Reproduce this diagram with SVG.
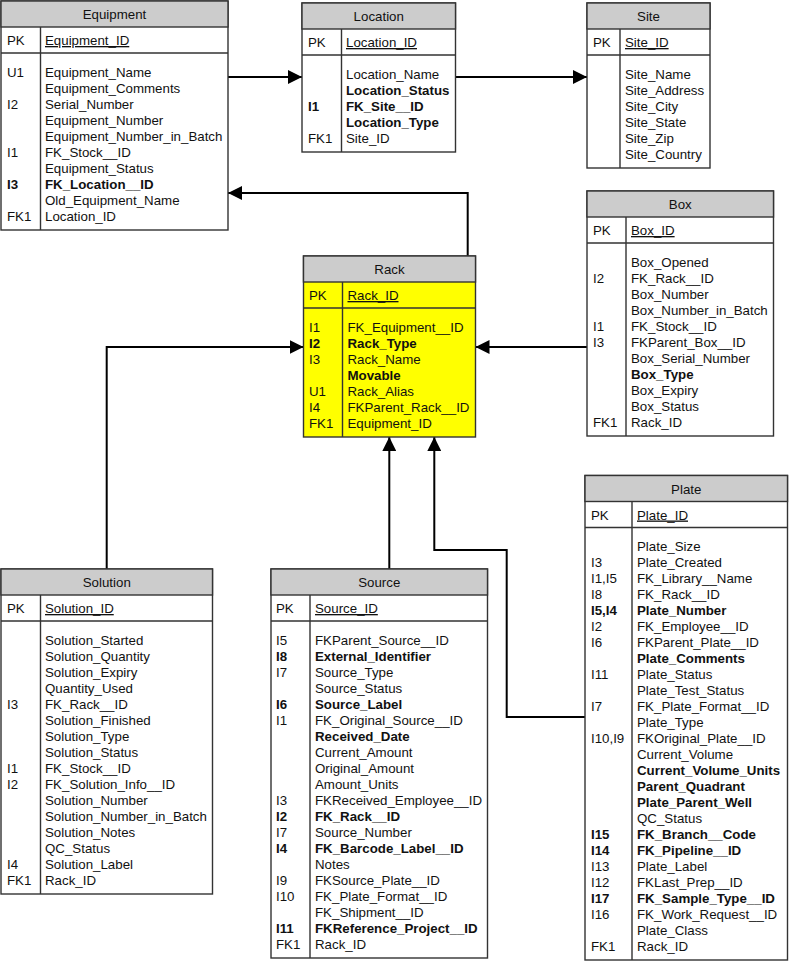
<svg xmlns="http://www.w3.org/2000/svg" width="789" height="961" viewBox="0 0 789 961">
<style>
.bg{fill:#ffffff;stroke:#333333;stroke-width:1.4}
.yl{fill:#ffff00;stroke:#333333;stroke-width:1.4}
.hd{fill:#cccccc;stroke:#333333;stroke-width:1.4}
.ln{stroke:#333333;stroke-width:1.4;fill:none}
text{font-family:"Liberation Sans",Arial,sans-serif;font-size:13.3px;fill:#111111}
.ttl{text-anchor:middle}
.b{font-weight:bold}
.u{text-decoration:underline}
.cn{stroke:#000000;stroke-width:2;fill:none;marker-end:url(#ah)}
</style>
<defs>
<marker id="ah" viewBox="0 0 14 14" refX="14" refY="7" markerWidth="14" markerHeight="14" markerUnits="userSpaceOnUse" orient="auto">
<path d="M0,0 L14,7 L0,14 z" fill="#000000"/>
</marker>
</defs>

<g id="connectors">
<path class="cn" d="M228,77 H302"/>
<path class="cn" d="M455.5,77 H587"/>
<path class="cn" d="M467.7,256 V193 H228"/>
<path class="cn" d="M106.7,569 V347 H303.5"/>
<path class="cn" d="M587,347 H475.5"/>
<path class="cn" d="M389.3,569 V437"/>
<path class="cn" d="M585,717 H506.7 V550 H434.3 V437"/>
</g>

<g id="Equipment">
<rect class="bg" x="1" y="1" width="227" height="229"/>
<rect class="hd" x="1" y="1" width="227" height="26"/>
<path class="ln" d="M1,53 H228 M40.5,27 V230"/>
<text class="ttl" x="114.5" y="19">Equipment</text>
<text x="7" y="45">PK</text><text class="u" x="45" y="45">Equipment_ID</text>
<text x="7" y="76.5">U1</text><text x="45" y="76.5">Equipment_Name</text>
<text x="45" y="92.5">Equipment_Comments</text>
<text x="7" y="108.5">I2</text><text x="45" y="108.5">Serial_Number</text>
<text x="45" y="124.5">Equipment_Number</text>
<text x="45" y="140.5">Equipment_Number_in_Batch</text>
<text x="7" y="156.5">I1</text><text x="45" y="156.5">FK_Stock__ID</text>
<text x="45" y="172.5">Equipment_Status</text>
<text class="b" x="7" y="188.5">I3</text><text class="b" x="45" y="188.5">FK_Location__ID</text>
<text x="45" y="204.5">Old_Equipment_Name</text>
<text x="7" y="220.5">FK1</text><text x="45" y="220.5">Location_ID</text>
</g>

<g id="Location">
<rect class="bg" x="302" y="3" width="153.5" height="149"/>
<rect class="hd" x="302" y="3" width="153.5" height="26"/>
<path class="ln" d="M302,55 H455.5 M341.5,29 V152"/>
<text class="ttl" x="378.75" y="21">Location</text>
<text x="308" y="47">PK</text><text class="u" x="346" y="47">Location_ID</text>
<text x="346" y="78.5">Location_Name</text>
<text class="b" x="346" y="94.5">Location_Status</text>
<text class="b" x="308" y="110.5">I1</text><text class="b" x="346" y="110.5">FK_Site__ID</text>
<text class="b" x="346" y="126.5">Location_Type</text>
<text x="308" y="142.5">FK1</text><text x="346" y="142.5">Site_ID</text>
</g>

<g id="Site">
<rect class="bg" x="587" y="3" width="123" height="165"/>
<rect class="hd" x="587" y="3" width="123" height="26"/>
<path class="ln" d="M587,55 H710 M620,29 V168"/>
<text class="ttl" x="648.5" y="21">Site</text>
<text x="593" y="47">PK</text><text class="u" x="625" y="47">Site_ID</text>
<text x="625" y="78.5">Site_Name</text>
<text x="625" y="94.5">Site_Address</text>
<text x="625" y="110.5">Site_City</text>
<text x="625" y="126.5">Site_State</text>
<text x="625" y="142.5">Site_Zip</text>
<text x="625" y="158.5">Site_Country</text>
</g>

<g id="Box">
<rect class="bg" x="587" y="191" width="186.5" height="245"/>
<rect class="hd" x="587" y="191" width="186.5" height="26"/>
<path class="ln" d="M587,243 H773.5 M626,217 V436"/>
<text class="ttl" x="680.25" y="209">Box</text>
<text x="593" y="235">PK</text><text class="u" x="631" y="235">Box_ID</text>
<text x="631" y="266.5">Box_Opened</text>
<text x="593" y="282.5">I2</text><text x="631" y="282.5">FK_Rack__ID</text>
<text x="631" y="298.5">Box_Number</text>
<text x="631" y="314.5">Box_Number_in_Batch</text>
<text x="593" y="330.5">I1</text><text x="631" y="330.5">FK_Stock__ID</text>
<text x="593" y="346.5">I3</text><text x="631" y="346.5">FKParent_Box__ID</text>
<text x="631" y="362.5">Box_Serial_Number</text>
<text class="b" x="631" y="378.5">Box_Type</text>
<text x="631" y="394.5">Box_Expiry</text>
<text x="631" y="410.5">Box_Status</text>
<text x="593" y="426.5">FK1</text><text x="631" y="426.5">Rack_ID</text>
</g>

<g id="Rack">
<rect class="yl" x="303.5" y="256" width="172" height="181"/>
<rect class="hd" x="303.5" y="256" width="172" height="26"/>
<path class="ln" d="M303.5,308 H475.5 M342.5,282 V437"/>
<text class="ttl" x="389.5" y="274">Rack</text>
<text x="309" y="300">PK</text><text class="u" x="347.5" y="300">Rack_ID</text>
<text x="309" y="331.5">I1</text><text x="347.5" y="331.5">FK_Equipment__ID</text>
<text class="b" x="309" y="347.5">I2</text><text class="b" x="347.5" y="347.5">Rack_Type</text>
<text x="309" y="363.5">I3</text><text x="347.5" y="363.5">Rack_Name</text>
<text class="b" x="347.5" y="379.5">Movable</text>
<text x="309" y="395.5">U1</text><text x="347.5" y="395.5">Rack_Alias</text>
<text x="309" y="411.5">I4</text><text x="347.5" y="411.5">FKParent_Rack__ID</text>
<text x="309" y="427.5">FK1</text><text x="347.5" y="427.5">Equipment_ID</text>
</g>

<g id="Solution">
<rect class="bg" x="1" y="569" width="211.5" height="325"/>
<rect class="hd" x="1" y="569" width="211.5" height="26"/>
<path class="ln" d="M1,621 H212.5 M40.5,595 V894"/>
<text class="ttl" x="106.75" y="587">Solution</text>
<text x="7" y="613">PK</text><text class="u" x="45" y="613">Solution_ID</text>
<text x="45" y="644.5">Solution_Started</text>
<text x="45" y="660.5">Solution_Quantity</text>
<text x="45" y="676.5">Solution_Expiry</text>
<text x="45" y="692.5">Quantity_Used</text>
<text x="7" y="708.5">I3</text><text x="45" y="708.5">FK_Rack__ID</text>
<text x="45" y="724.5">Solution_Finished</text>
<text x="45" y="740.5">Solution_Type</text>
<text x="45" y="756.5">Solution_Status</text>
<text x="7" y="772.5">I1</text><text x="45" y="772.5">FK_Stock__ID</text>
<text x="7" y="788.5">I2</text><text x="45" y="788.5">FK_Solution_Info__ID</text>
<text x="45" y="804.5">Solution_Number</text>
<text x="45" y="820.5">Solution_Number_in_Batch</text>
<text x="45" y="836.5">Solution_Notes</text>
<text x="45" y="852.5">QC_Status</text>
<text x="7" y="868.5">I4</text><text x="45" y="868.5">Solution_Label</text>
<text x="7" y="884.5">FK1</text><text x="45" y="884.5">Rack_ID</text>
</g>

<g id="Source">
<rect class="bg" x="271" y="569" width="216.5" height="389"/>
<rect class="hd" x="271" y="569" width="216.5" height="26"/>
<path class="ln" d="M271,621 H487.5 M310,595 V958"/>
<text class="ttl" x="379.25" y="587">Source</text>
<text x="276" y="613">PK</text><text class="u" x="315" y="613">Source_ID</text>
<text x="276" y="644.5">I5</text><text x="315" y="644.5">FKParent_Source__ID</text>
<text class="b" x="276" y="660.5">I8</text><text class="b" x="315" y="660.5">External_Identifier</text>
<text x="276" y="676.5">I7</text><text x="315" y="676.5">Source_Type</text>
<text x="315" y="692.5">Source_Status</text>
<text class="b" x="276" y="708.5">I6</text><text class="b" x="315" y="708.5">Source_Label</text>
<text x="276" y="724.5">I1</text><text x="315" y="724.5">FK_Original_Source__ID</text>
<text class="b" x="315" y="740.5">Received_Date</text>
<text x="315" y="756.5">Current_Amount</text>
<text x="315" y="772.5">Original_Amount</text>
<text x="315" y="788.5">Amount_Units</text>
<text x="276" y="804.5">I3</text><text x="315" y="804.5">FKReceived_Employee__ID</text>
<text class="b" x="276" y="820.5">I2</text><text class="b" x="315" y="820.5">FK_Rack__ID</text>
<text x="276" y="836.5">I7</text><text x="315" y="836.5">Source_Number</text>
<text class="b" x="276" y="852.5">I4</text><text class="b" x="315" y="852.5">FK_Barcode_Label__ID</text>
<text x="315" y="868.5">Notes</text>
<text x="276" y="884.5">I9</text><text x="315" y="884.5">FKSource_Plate__ID</text>
<text x="276" y="900.5">I10</text><text x="315" y="900.5">FK_Plate_Format__ID</text>
<text x="315" y="916.5">FK_Shipment__ID</text>
<text class="b" x="276" y="932.5">I11</text><text class="b" x="315" y="932.5">FKReference_Project__ID</text>
<text x="276" y="948.5">FK1</text><text x="315" y="948.5">Rack_ID</text>
</g>

<g id="Plate">
<rect class="bg" x="585" y="475.5" width="202.5" height="484.5"/>
<rect class="hd" x="585" y="475.5" width="202.5" height="26"/>
<path class="ln" d="M585,527.5 H787.5 M632,501.5 V960"/>
<text class="ttl" x="686.25" y="493.5">Plate</text>
<text x="591" y="519.5">PK</text><text class="u" x="637" y="519.5">Plate_ID</text>
<text x="637" y="551">Plate_Size</text>
<text x="591" y="567">I3</text><text x="637" y="567">Plate_Created</text>
<text x="591" y="583">I1,I5</text><text x="637" y="583">FK_Library__Name</text>
<text x="591" y="599">I8</text><text x="637" y="599">FK_Rack__ID</text>
<text class="b" x="591" y="615">I5,I4</text><text class="b" x="637" y="615">Plate_Number</text>
<text x="591" y="631">I2</text><text x="637" y="631">FK_Employee__ID</text>
<text x="591" y="647">I6</text><text x="637" y="647">FKParent_Plate__ID</text>
<text class="b" x="637" y="663">Plate_Comments</text>
<text x="591" y="679">I11</text><text x="637" y="679">Plate_Status</text>
<text x="637" y="695">Plate_Test_Status</text>
<text x="591" y="711">I7</text><text x="637" y="711">FK_Plate_Format__ID</text>
<text x="637" y="727">Plate_Type</text>
<text x="591" y="743">I10,I9</text><text x="637" y="743">FKOriginal_Plate__ID</text>
<text x="637" y="759">Current_Volume</text>
<text class="b" x="637" y="775">Current_Volume_Units</text>
<text class="b" x="637" y="791">Parent_Quadrant</text>
<text class="b" x="637" y="807">Plate_Parent_Well</text>
<text x="637" y="823">QC_Status</text>
<text class="b" x="591" y="839">I15</text><text class="b" x="637" y="839">FK_Branch__Code</text>
<text class="b" x="591" y="855">I14</text><text class="b" x="637" y="855">FK_Pipeline__ID</text>
<text x="591" y="871">I13</text><text x="637" y="871">Plate_Label</text>
<text x="591" y="887">I12</text><text x="637" y="887">FKLast_Prep__ID</text>
<text class="b" x="591" y="903">I17</text><text class="b" x="637" y="903">FK_Sample_Type__ID</text>
<text x="591" y="919">I16</text><text x="637" y="919">FK_Work_Request__ID</text>
<text x="637" y="935">Plate_Class</text>
<text x="591" y="951">FK1</text><text x="637" y="951">Rack_ID</text>
</g>
</svg>
